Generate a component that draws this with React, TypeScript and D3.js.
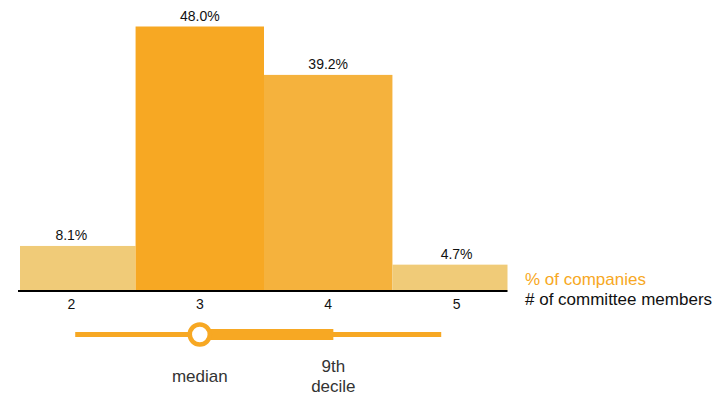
import React from "react";
import * as d3 from "d3";

const categories = [2, 3, 4, 5];
const shares = [8.1, 48.0, 39.2, 4.7];
const barColors = ["#F0CB78", "#F7A823", "#F5B23D", "#F0CB78"];
const tickLabels = ["2", "3", "4", "5"];
// distribution summary (in # of committee members)
const rangeMin = 2.03;
const median = 3;
const decile9 = 4.04;
const rangeMax = 4.88;

export default function App() {
  const W = 720, H = 398;
  const x = d3.scaleLinear().domain([1.6, 5.4]).range([20, 508]);
  const y = d3.scaleLinear().domain([0, 48]).range([290.5, 26.5]);
  const step = x(3) - x(2);
  const font = "'Liberation Sans', Arial, sans-serif";
  const lineY = 334.5;
  const orange = "#F7A823";
  return (
    <svg width={W} height={H} style={{ position: "absolute", left: 0, top: 0 }} fontFamily={font}>
      <defs>
        <clipPath id="plot">
          <rect x={20} y={0} width={487.5} height={300} />
        </clipPath>
      </defs>
      <g clipPath="url(#plot)">
        {categories.map((c, i) => (
          <rect key={c} x={x(c) - step / 2} y={y(shares[i])} width={step} height={y(0) - y(shares[i])} fill={barColors[i]} />
        ))}
      </g>
      {categories.map((c, i) => (
        <text key={"v" + c} x={x(c)} y={y(shares[i]) - 5.5} textAnchor="middle" fontSize={14} fill="#111">
          {shares[i].toFixed(1) + "%"}
        </text>
      ))}
      <line x1={18} x2={507.5} y1={291} y2={291} stroke="#000" strokeWidth={2} />
      {categories.map((c, i) => (
        <text key={"t" + c} x={x(c)} y={309} textAnchor="middle" fontSize={14} fill="#111">
          {tickLabels[i]}
        </text>
      ))}
      <text x={525} y={285} fontSize={17} fill={orange}>% of companies</text>
      <text x={525} y={305} fontSize={17} fill="#111"># of committee members</text>

      <line x1={x(rangeMin)} x2={x(rangeMax)} y1={lineY} y2={lineY} stroke={orange} strokeWidth={5} />
      <line x1={x(median)} x2={x(decile9)} y1={lineY} y2={lineY} stroke={orange} strokeWidth={11} />
      <circle cx={x(median)} cy={lineY} r={10} fill="#fff" stroke={orange} strokeWidth={4.5} />
      <text x={x(median)} y={381.5} textAnchor="middle" fontSize={17} fill="#333">median</text>
      <text x={x(decile9)} y={371.5} textAnchor="middle" fontSize={17} fill="#333">9th</text>
      <text x={x(decile9)} y={391.5} textAnchor="middle" fontSize={17} fill="#333">decile</text>
    </svg>
  );
}
